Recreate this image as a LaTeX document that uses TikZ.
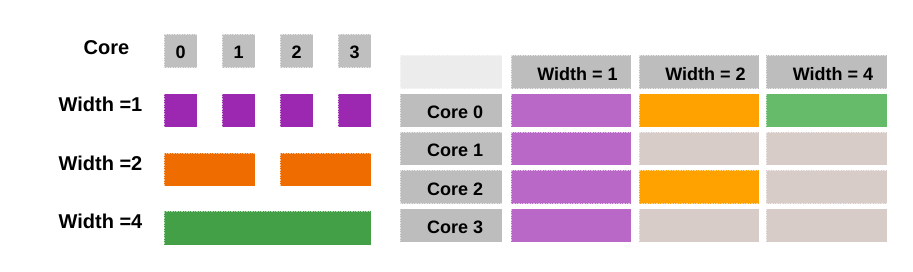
\documentclass[tikz,border=0pt]{standalone}
\usepackage{fontspec}
\setmainfont{Liberation Sans}
\definecolor{lgray}{HTML}{BFBFBF}
\definecolor{lpurple}{HTML}{9C27B0}
\definecolor{lorange}{HTML}{EF6C00}
\definecolor{lgreen}{HTML}{43A047}
\definecolor{rgray}{HTML}{BDBDBD}
\definecolor{rempty}{HTML}{ECECEC}
\definecolor{rpurple}{HTML}{BA68C8}
\definecolor{rorange}{HTML}{FFA200}
\definecolor{rgreen}{HTML}{66BB6A}
\definecolor{rbeige}{HTML}{D7CCC8}
\begin{document}
\begin{tikzpicture}[x=1pt,y=-1pt,
  cell/.style={rectangle, inner sep=0pt, draw=white, draw opacity=0.6, line width=0.6pt,
     dash pattern=on 1.5pt off 1pt},
  lbl/.style={inner sep=0pt, font=\fontsize{20}{24}\selectfont\bfseries},
  tlbl/.style={inner sep=0pt, font=\fontsize{18}{22}\selectfont\bfseries}]
\useasboundingbox (0,0) rectangle (913,272);
% ---------- left part ----------
\node[lbl] (corelbl) at (106.5,48) {Core};
\node[lbl] (w1lbl) at (100.5,104.5) {Width =1};
\node[lbl] (w2lbl) at (100.5,163) {Width =2};
\node[lbl] (w4lbl) at (100.5,221) {Width =4};
\foreach \i/\x in {0/163.5,1/221.5,2/279.5,3/337.5}{
  \node[cell, fill=lgray, minimum width=33.5pt, minimum height=33.5pt, anchor=north west] (c\i) at (\x,34) {};
  \node[tlbl] (c\i t) at ([yshift=-1.5pt]c\i.center) {\i};
  \node[cell, fill=lpurple, minimum width=33.5pt, minimum height=33.5pt, anchor=north west] (p\i) at (\x,93.3) {};
}
\node[cell, fill=lorange, minimum width=91.5pt, minimum height=33pt, anchor=north west] (o0) at (163.5,152.7) {};
\node[cell, fill=lorange, minimum width=91.5pt, minimum height=33pt, anchor=north west] (o1) at (279.5,152.7) {};
\node[cell, fill=lgreen, minimum width=207.5pt, minimum height=34pt, anchor=north west] (g0) at (163.5,211) {};
% ---------- right table ----------
\tikzset{tc/.style={cell, minimum height=33.5pt, anchor=north west}}
\node[tc, fill=rempty, minimum width=101.5pt] (h0) at (400,55) {};
\node[tc, fill=rgray, minimum width=120.5pt] (h1) at (510.5,55) {};
\node[tc, fill=rgray, minimum width=120.5pt] (h2) at (638.5,55) {};
\node[tc, fill=rgray, minimum width=120.5pt] (h3) at (766,55) {};
\node[tlbl] (h1t) at ([xshift=6.5pt,yshift=-2.5pt]h1.center) {Width = 1};
\node[tlbl] (h2t) at ([xshift=6.5pt,yshift=-2.5pt]h2.center) {Width = 2};
\node[tlbl] (h3t) at ([xshift=6.5pt,yshift=-2.5pt]h3.center) {Width = 4};
\foreach \r/\y/\ca/\cb/\cc in {0/93.3/rpurple/rorange/rgreen, 1/131.7/rpurple/rbeige/rbeige,
                          2/170/rpurple/rorange/rbeige, 3/208.3/rpurple/rbeige/rbeige}{
  \node[tc, fill=rgray, minimum width=101.5pt] (r\r) at (400,\y) {};
  \node[tlbl] (r\r t) at ([xshift=4pt,yshift=-2pt]r\r.center) {Core \r};
  \node[tc, fill=\ca, minimum width=120.5pt] (r\r a) at (510.5,\y) {};
  \node[tc, fill=\cb, minimum width=120.5pt] (r\r b) at (638.5,\y) {};
  \node[tc, fill=\cc, minimum width=120.5pt] (r\r c) at (766,\y) {};
}
\end{tikzpicture}
\end{document}
